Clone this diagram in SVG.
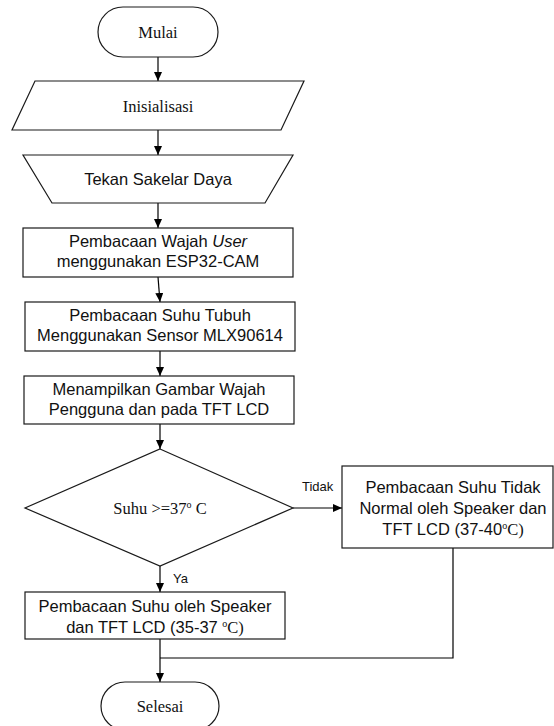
<svg xmlns="http://www.w3.org/2000/svg" width="554" height="726" viewBox="0 0 554 726">
<defs>
<marker id="arr" markerUnits="userSpaceOnUse" viewBox="0 0 9 8" refX="9" refY="4" markerWidth="9" markerHeight="8" orient="auto">
<path d="M0,0 L9,4 L0,8 z" fill="#000"/>
</marker>
<style>
.shape{fill:#fff;stroke:#1a1a1a;stroke-width:1.2}
.serif{font-family:"Liberation Serif","Times New Roman",serif;font-size:16.5px;fill:#111;text-anchor:middle}
.sans{font-family:"Liberation Sans",Arial,sans-serif;font-size:16.5px;fill:#111;text-anchor:middle}
.lbl{font-family:"Liberation Sans",Arial,sans-serif;font-size:13px;fill:#111}
.line{fill:none;stroke:#000;stroke-width:1.2}
.arrow{fill:none;stroke:#000;stroke-width:1.2;marker-end:url(#arr)}
</style>
</defs>
<rect width="554" height="726" fill="#fff"/>
<g id="connectors">
<line class="arrow" x1="158" y1="57" x2="158" y2="81"/>
<line class="arrow" x1="158" y1="130" x2="158" y2="155"/>
<line class="arrow" x1="158" y1="203" x2="158" y2="228"/>
<line class="arrow" x1="158" y1="277" x2="160" y2="302"/>
<line class="arrow" x1="160" y1="351" x2="160" y2="376"/>
<line class="arrow" x1="160" y1="424" x2="160" y2="449"/>
<line class="arrow" x1="293" y1="508" x2="342" y2="508"/>
<text class="lbl" x="302" y="491">Tidak</text>
<line class="arrow" x1="160" y1="566" x2="160" y2="592"/>
<text class="lbl" x="173" y="583">Ya</text>
<line class="arrow" x1="160" y1="639" x2="160" y2="682"/>
<polyline class="line" points="453,548 453,658 160,658"/>
</g>
<g id="mulai">
<rect class="shape" x="98" y="7" width="120" height="50" rx="25" ry="25"/>
<text class="serif" x="158" y="38">Mulai</text>
</g>
<g id="inisialisasi">
<polygon class="shape" points="35,81 304,81 281,130 12,130"/>
<text class="serif" x="158" y="112">Inisialisasi</text>
</g>
<g id="tekan">
<polygon class="shape" points="23,155 293,155 265,203 52,203"/>
<text class="sans" x="158" y="185">Tekan Sakelar Daya</text>
</g>
<g id="wajah">
<rect class="shape" x="23" y="228" width="270" height="49"/>
<text class="sans" x="158" y="247">Pembacaan Wajah <tspan font-style="italic">User</tspan></text>
<text class="sans" x="158" y="267">menggunakan ESP32-CAM</text>
</g>
<g id="suhu-tubuh">
<rect class="shape" x="25" y="302" width="270" height="49"/>
<text class="sans" x="160" y="321">Pembacaan Suhu Tubuh</text>
<text class="sans" x="160" y="341">Menggunakan Sensor MLX90614</text>
</g>
<g id="menampilkan">
<rect class="shape" x="24" y="376" width="270" height="48"/>
<text class="sans" x="159" y="395">Menampilkan Gambar Wajah</text>
<text class="sans" x="159" y="415">Pengguna dan pada TFT LCD</text>
</g>
<g id="keputusan">
<polygon class="shape" points="160,449 293,508 160,566 25,508"/>
<text class="serif" x="160" y="514">Suhu &gt;=37<tspan font-size="10" dy="-6">o</tspan><tspan dy="6"> C</tspan></text>
</g>
<g id="tidak-normal">
<rect class="shape" x="342" y="466" width="211" height="82"/>
<text class="sans" x="453" y="493">Pembacaan Suhu Tidak</text>
<text class="sans" x="453" y="514">Normal oleh Speaker dan</text>
<text class="sans" x="453" y="535">TFT LCD (37-40<tspan font-size="10" dy="-6" font-family="Liberation Serif, serif">o</tspan><tspan dy="6" font-family="Liberation Serif, serif">C)</tspan></text>
</g>
<g id="normal">
<rect class="shape" x="25" y="592" width="260" height="47"/>
<text class="sans" x="155" y="612">Pembacaan Suhu oleh Speaker</text>
<text class="sans" x="155" y="633">dan TFT LCD (35-37 <tspan font-size="10" dy="-6" font-family="Liberation Serif, serif">o</tspan><tspan dy="6" font-family="Liberation Serif, serif">C)</tspan></text>
</g>
<g id="selesai">
<rect class="shape" x="101" y="682" width="118" height="48" rx="24" ry="24"/>
<text class="serif" x="160" y="712">Selesai</text>
</g>
</svg>
